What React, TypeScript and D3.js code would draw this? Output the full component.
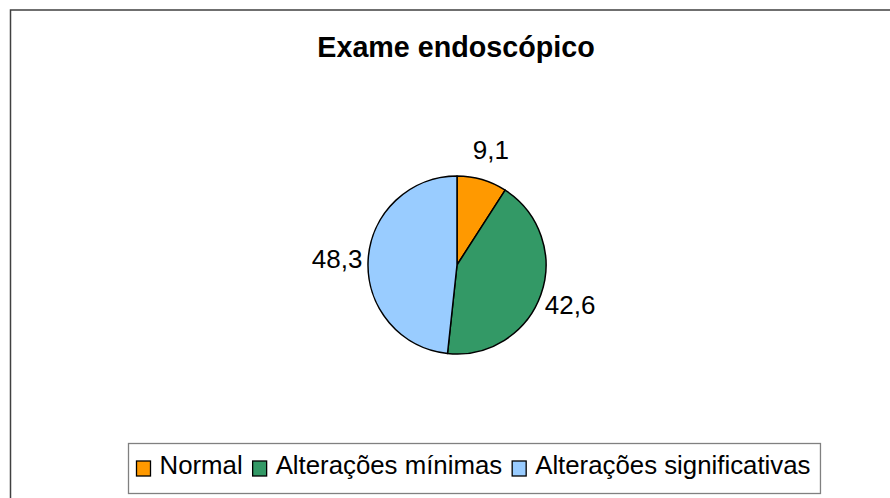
import React, { useEffect, useRef } from "react";
import * as d3 from "d3";

const categories = ["Normal", "Alterações mínimas", "Alterações significativas"];
const values = [9.1, 42.6, 48.3];
const labels = ["9,1", "42,6", "48,3"];
const colors = ["#FF9900", "#339966", "#99CCFF"];
const title = "Exame endoscópico";

const W = 890;
const H = 498;
const FONT = "'Liberation Sans', Arial, sans-serif";

export default function App() {
  const ref = useRef<SVGSVGElement | null>(null);

  useEffect(() => {
    const svg = d3.select(ref.current);
    svg.selectAll("*").remove();

    // outer frame
    svg.append("rect")
      .attr("x", 10.5).attr("y", 10).attr("width", W + 20).attr("height", H + 20)
      .attr("fill", "#fff").attr("stroke", "#404040").attr("stroke-width", 1.5);

    svg.append("text")
      .attr("x", 456).attr("y", 56.5)
      .attr("text-anchor", "middle")
      .attr("font-family", FONT).attr("font-weight", "bold").attr("font-size", 28.7)
      .attr("fill", "#000")
      .text(title);

    const cx = 457, cy = 265, r = 89;
    const pie = d3.pie<number>().sort(null).value((d) => d);
    const arcs = pie(values);
    const arc = d3.arc<d3.PieArcDatum<number>>().innerRadius(0).outerRadius(r);
    const labelArc = d3.arc<d3.PieArcDatum<number>>().innerRadius(120).outerRadius(120);

    const g = svg.append("g").attr("transform", `translate(${cx},${cy})`);
    g.selectAll("path.slice").data(arcs).enter().append("path")
      .attr("class", "slice")
      .attr("d", arc as any)
      .attr("fill", (_d, i) => colors[i])
      .attr("stroke", "#000").attr("stroke-width", 1.5).attr("stroke-linejoin", "round");

    g.selectAll("text.lbl").data(arcs).enter().append("text")
      .attr("class", "lbl")
      .attr("transform", (d) => {
        const [x, y] = labelArc.centroid(d);
        return `translate(${x},${y})`;
      })
      .attr("dy", "0.36em")
      .attr("text-anchor", "middle")
      .attr("font-family", FONT).attr("font-size", 26).attr("fill", "#000")
      .text((_d, i) => labels[i]);

    // legend
    const lg = svg.append("g");
    const box = lg.append("rect")
      .attr("fill", "#fff").attr("stroke", "#808080").attr("stroke-width", 1.3);
    const sw = 14, gapSym = 9, gapItem = 10, padL = 8, padR = 10;
    let x = 0;
    const items: { x: number; w: number }[] = [];
    categories.forEach((c) => {
      const t = lg.append("text")
        .attr("font-family", FONT).attr("font-size", 25.8).attr("fill", "#000")
        .attr("y", 474)
        .text(c);
      const w = (t.node() as SVGTextElement).getComputedTextLength();
      items.push({ x, w });
      x += sw + gapSym + w + gapItem;
    });
    const total = x - gapItem;
    const boxW = padL + total + padR;
    const boxX = 128.5;
    box.attr("x", boxX).attr("y", 443.5).attr("width", boxW).attr("height", 50);
    lg.selectAll("text").each(function (_d, i) {
      const it = items[i];
      d3.select(this).attr("x", boxX + padL + it.x + sw + gapSym);
      lg.append("rect")
        .attr("x", boxX + padL + it.x).attr("y", 461)
        .attr("width", sw).attr("height", 15)
        .attr("fill", colors[i]).attr("stroke", "#000").attr("stroke-width", 1.3);
    });
  }, []);

  return (
    <svg
      ref={ref}
      width={W}
      height={H}
      style={{ position: "absolute", left: 0, top: 0, display: "block" }}
    />
  );
}
